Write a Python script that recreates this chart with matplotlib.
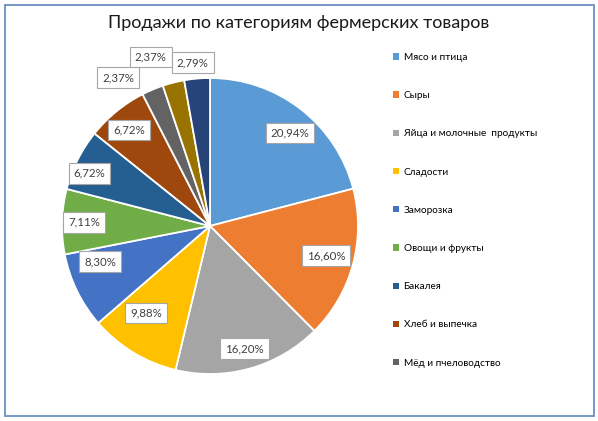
import matplotlib.pyplot as plt
import numpy as np
from matplotlib.patches import Patch, Rectangle

plt.rcParams['font.family'] = ['Lato', 'DejaVu Sans']

title = "Продажи по категориям фермерских товаров"
categories = [
    "Мясо и птица", "Сыры", "Яйца и молочные  продукты", "Сладости",
    "Заморозка", "Овощи и фрукты", "Бакалея", "Хлеб и выпечка",
    "Мёд и пчеловодство", "Чай и кофе", "Напитки",
]
shares = [20.94, 16.60, 16.20, 9.88, 8.30, 7.11, 6.72, 6.72, 2.37, 2.37, 2.79]
colors = ["#5b9bd5", "#ed7d31", "#a5a5a5", "#ffc000", "#4472c4", "#70ad47",
          "#255e91", "#9e480e", "#636363", "#997300", "#264478"]
# label distance from centre (in radii) and small angle nudge (deg)
label_r = [0.83, 0.81, 0.86, 0.73, 0.78, 0.85, 0.89, 0.85, 1.18, 1.21, 1.11]
label_dang = [-3, 1, 0, -5, -8, 0, 3, 1, 9, 5, 1]
n_legend = 9  # the legend is cut off after this many entries

fig = plt.figure(figsize=(5.98, 4.21), dpi=100)
fig.patches.append(Rectangle((4.5 / 598, 5.5 / 421), 589.5 / 598, 410.5 / 421,
                             transform=fig.transFigure, fill=False,
                             edgecolor="#6b8fc0", lw=1.3))

cx, cy, R = 210, 226, 148
ax = fig.add_axes([(cx - R) / 598, (421 - cy - R) / 421, 2 * R / 598, 2 * R / 421])
wedges, _ = ax.pie(shares, colors=colors, startangle=90, counterclock=False,
                   wedgeprops=dict(edgecolor="white", linewidth=1.3))
ax.set_xlim(-1, 1)
ax.set_ylim(-1, 1)
ax.set_aspect("equal")
ax.axis("off")

cum = np.cumsum([0] + shares[:-1])
for i, v in enumerate(shares):
    mid = np.deg2rad(90 - (cum[i] + v / 2) * 3.6 + label_dang[i])
    r = label_r[i]
    ax.text(r * np.cos(mid), r * np.sin(mid), f"{v:.2f}%".replace(".", ","),
            ha="center", va="center", fontsize=8.3, color="#404040",
            bbox=dict(boxstyle="square,pad=0.42", fc="white", ec="#a6a6a6", lw=0.8),
            clip_on=False)

fig.text(0.5, 1 - 23 / 421, title, ha="center", va="center", fontsize=13,
         color="#1a1a1a")

handles = [Patch(facecolor=c) for c in colors[:n_legend]]
fig.legend(handles, categories[:n_legend], loc="upper left",
           bbox_to_anchor=(393 / 598, 1 - 53 / 421), frameon=False,
           fontsize=7.2, handlelength=0.6, handleheight=0.6, handletextpad=0.45,
           labelspacing=2.92, borderpad=0, borderaxespad=0)

fig.savefig("out.png", dpi=100, facecolor="white")
